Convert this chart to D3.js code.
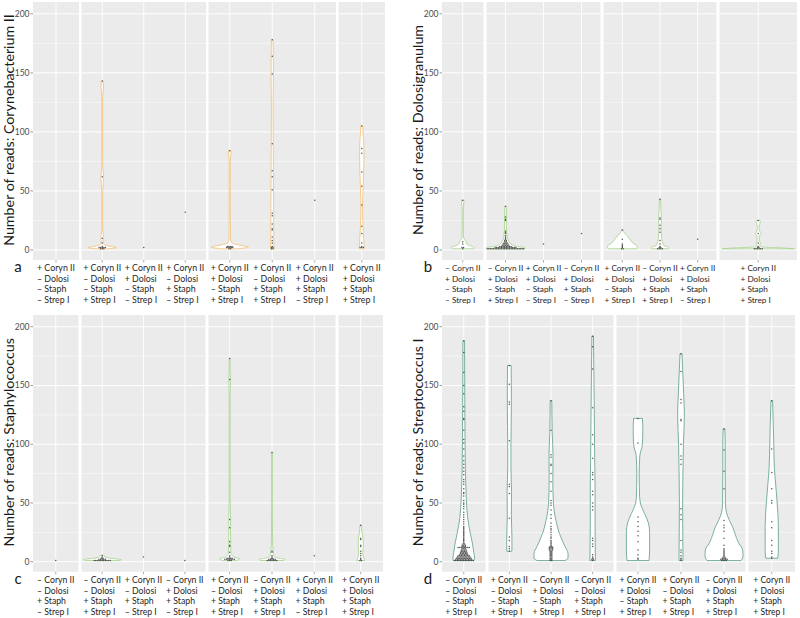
<!DOCTYPE html>
<html><head><meta charset="utf-8">
<script src="https://cdn.jsdelivr.net/npm/d3@7/dist/d3.min.js"></script>
<style>
body{margin:0;background:#fff}
svg{display:block}
text{font-family:Lato,"Noto Sans",sans-serif}
</style>
</head><body>
<svg id="chart" width="800" height="618"></svg>
<script>
// ---------- data ----------
const genes = ["Coryn II", "Dolosi", "Staph", "Strep I"];
const sectionSizes = [1, 3, 3, 1];
const yTicks = [0, 50, 100, 150, 200];
const yMinor = [25, 75, 125, 175];
const titles = [
  "Number of reads: Corynebacterium II",
  "Number of reads: Dolosigranulum",
  "Number of reads: Staphylococcus",
  "Number of reads: Streptococcus I"
];
const panelLetters = ["a", "b", "c", "d"];

// sign pattern per category (Coryn II, Dolosi, Staph, Strep I)
const catsA = ["+–––", "+––+", "++––", "+–+–", "++–+", "+–++", "+++–", "++++"];
const catsB = ["–+––", "–+–+", "++––", "–++–", "++–+", "–+++", "+++–", "++++"];
const catsC = ["––+–", "––++", "+–+–", "–++–", "+–++", "–+++", "+++–", "++++"];
const catsD = ["–––+", "+––+", "–+–+", "––++", "++–+", "+–++", "–+++", "++++"];

// observed read counts per category
const ptsA = [
  [],
  [143, 62, 10, 6, 3, 2, 2, 2, 2, 2, 1, 1, 1],
  [2],
  [32],
  [84, 3, 3, 3, 3, 2, 2, 2, 2, 2, 1, 1],
  [178, 164, 149, 90, 67, 62, 51, 31, 29, 22, 18, 17, 11, 8, 6, 3, 2, 2, 1, 1],
  [42],
  [105, 86, 82, 66, 54, 38, 20, 14, 6, 3, 2, 2, 2]
];
const ptsB = [
  [42, 7, 5, 2, 2, 1],
  [37, 28, 26, 25, 16, 15, 14, 12, 11, 10, 9, 8, 8, 7, 7, 6, 6, 6, 5, 5, 5, 5, 4, 4, 4, 4, 4,
   3, 3, 3, 3, 3, 3, 3, 3, 2, 2, 2, 2, 2, 2, 2, 2, 2, 2, 2, 2, 2, 2,
   1, 1, 1, 1, 1, 1, 1, 1, 1, 1, 1, 1, 1, 1, 1, 1, 1, 1, 1, 1, 1, 1, 1, 1],
  [5],
  [14],
  [17, 9, 5, 4, 3, 2, 1, 1],
  [43, 27, 26, 21, 18, 15, 8, 5, 3, 2, 2, 1, 1, 1, 1],
  [9],
  [25, 14, 6, 3, 2, 2, 1, 1, 1, 1, 1, 1]
];
const ptsC = [
  [1],
  [5, 4, 3, 3, 2, 2, 2, 2, 2, 1, 1, 1, 1, 1, 1, 1, 1, 1, 1, 1],
  [4],
  [1],
  [173, 155, 36, 29, 17, 14, 13, 8, 5, 4, 3, 3, 3, 3, 2, 2, 2, 2, 2, 2, 2, 1, 1, 1],
  [93, 9, 8, 5, 4, 3, 3, 2, 2, 2, 2, 2, 1, 1, 1, 1, 1, 1, 1],
  [5],
  [31, 20, 19, 14, 13, 9, 7, 5, 3, 2, 1, 1]
];
const ptsD = [
  [188, 178, 161, 150, 143, 132, 128, 122, 121, 112, 104, 101, 96, 90, 86, 83, 80, 77, 74, 70, 68,
   66, 62, 59, 58, 56, 52, 50, 49, 47, 45, 42, 40, 38, 36, 34, 32, 30, 29, 28, 27, 26, 25, 24, 23,
   22, 21, 20, 19, 18, 17, 16, 15, 15, 14, 14, 14, 13, 13, 13,
   12, 12, 12, 12, 12, 12, 12, 12, 11, 11, 11, 10, 10, 10, 10, 9, 9, 9, 9, 8, 8, 8, 8, 8,
   7, 7, 7, 7, 7, 6, 6, 6, 6, 6, 6, 5, 5, 5, 5, 5, 5, 5, 5, 4, 4, 4, 4, 4, 4, 4, 4, 4,
   3, 3, 3, 3, 3, 3, 3, 3, 3, 3, 2, 2, 2, 2, 2, 2, 2, 2, 2, 2, 2,
   1, 1, 1, 1, 1, 1, 1, 1, 1, 1, 1, 1, 1],
  [167, 151, 136, 134, 103, 66, 64, 58, 37, 21, 18, 13, 11, 9],
  [137, 112, 91, 89, 83, 82, 75, 68, 60, 52, 50, 48, 44, 40, 37, 33, 30, 28, 27, 25, 23, 21, 20,
   18, 17, 16, 15, 14, 13, 13, 12, 12, 12, 11, 11, 11, 10, 10, 10, 9, 9, 8, 8, 7, 7, 6, 6, 5, 5,
   4, 4, 3, 3, 2, 2, 1, 1],
  [192, 183, 164, 131, 108, 100, 88, 76, 74, 70, 60, 57, 50, 47, 44, 20, 18, 15, 13, 6, 4, 3, 2, 2, 1],
  [122, 101, 38, 34, 30, 26, 22, 17, 10, 6, 3, 2],
  [177, 162, 138, 135, 121, 120, 100, 90, 87, 83, 45, 40, 36, 18, 10, 8, 5, 3, 2, 1],
  [113, 95, 77, 62, 35, 31, 29, 26, 20, 14, 11, 10, 9, 8, 7, 6, 5, 4, 4, 3, 3, 3, 2, 2, 2, 2, 2, 1, 1, 1, 1],
  [137, 96, 76, 62, 52, 50, 34, 29, 18, 14, 9, 7, 4, 3]
];

// violin density profiles [reads, relative density]
const vioA = [
  null,
  [[1, 0.3], [2, 0.7], [3, 0.42], [4.5, 0.1], [7, 0.04], [10, 0.07], [13, 0.05], [20, 0.02], [45, 0.02],
   [57, 0.05], [62, 0.07], [67, 0.04], [80, 0.02], [130, 0.02], [138, 0.06], [143, 0.05]],
  null, null,
  [[1, 0.4], [2.5, 0.93], [4, 0.5], [6, 0.1], [9, 0.035], [40, 0.025], [78, 0.03], [82, 0.07], [84, 0.06]],
  [[1, 0.09], [5, 0.08], [15, 0.07], [30, 0.07], [60, 0.06], [90, 0.05], [120, 0.04], [150, 0.06], [170, 0.05], [178, 0.04]],
  null,
  [[1, 0.12], [5, 0.11], [15, 0.08], [25, 0.05], [35, 0.04], [50, 0.06], [65, 0.09], [80, 0.11], [90, 0.1], [100, 0.06], [105, 0.05]]
];
const vioB = [
  [[1, 0.5], [2, 0.58], [3.5, 0.38], [5, 0.2], [7, 0.17], [9, 0.08], [12, 0.03], [30, 0.025], [38, 0.045], [42, 0.06]],
  [[1, 0.9], [2, 0.95], [3, 0.55], [5, 0.28], [8, 0.14], [12, 0.08], [20, 0.05], [28, 0.05], [37, 0.03]],
  null, null,
  [[1, 0.7], [3, 0.75], [6, 0.52], [9, 0.38], [12, 0.24], [15, 0.08], [17, 0.05]],
  [[1, 0.4], [2, 0.42], [4, 0.18], [7, 0.11], [12, 0.07], [20, 0.06], [27, 0.07], [35, 0.04], [43, 0.03]],
  null,
  [[1, 1.8], [1.8, 1.1], [2.5, 0.18], [4, 0.07], [6, 0.11], [8, 0.05], [12, 0.07], [14, 0.14], [16, 0.07], [20, 0.04], [24, 0.11], [25, 0.09]]
];
const vioC = [
  null,
  [[1, 0.85], [1.8, 0.95], [2.8, 0.48], [4, 0.14], [5, 0.11], [5.7, 0.07]],
  null, null,
  [[1, 0.35], [2.5, 0.5], [4, 0.2], [8, 0.06], [15, 0.05], [30, 0.04], [36, 0.05], [50, 0.025], [140, 0.02], [155, 0.04], [165, 0.02], [173, 0.015]],
  [[1, 0.6], [2, 0.65], [3, 0.33], [5, 0.1], [9, 0.06], [15, 0.03], [50, 0.015], [90, 0.02], [93, 0.02]],
  null,
  [[1, 0.2], [3, 0.15], [8, 0.1], [14, 0.13], [20, 0.11], [25, 0.06], [31, 0.04]]
];
const vioD = [
  [[1, 0.5], [3, 0.54], [8, 0.5], [15, 0.44], [24, 0.33], [38, 0.19], [55, 0.125], [80, 0.08], [100, 0.065], [130, 0.055], [160, 0.045], [188, 0.04]],
  [[9, 0.13], [20, 0.13], [40, 0.1], [60, 0.11], [80, 0.08], [100, 0.08], [130, 0.1], [150, 0.1], [167, 0.09]],
  [[1, 0.7], [3, 0.85], [7, 0.85], [13, 0.7], [24, 0.42], [35, 0.25], [50, 0.12], [70, 0.09], [90, 0.1], [110, 0.06], [137, 0.04]],
  [[1, 0.14], [10, 0.13], [30, 0.12], [60, 0.12], [90, 0.1], [130, 0.08], [160, 0.06], [192, 0.04]],
  [[1, 0.55], [10, 0.58], [25, 0.58], [33, 0.52], [41, 0.33], [48, 0.15], [55, 0.08], [75, 0.06], [90, 0.09], [100, 0.22], [112, 0.24], [122, 0.22]],
  [[1, 0.1], [20, 0.09], [50, 0.08], [80, 0.1], [100, 0.12], [125, 0.17], [140, 0.14], [160, 0.09], [177, 0.05]],
  [[1, 0.85], [5, 0.95], [10, 0.93], [17, 0.7], [24, 0.55], [30, 0.42], [36, 0.25], [42, 0.12], [50, 0.07], [80, 0.06], [100, 0.06], [113, 0.04]],
  [[3, 0.3], [10, 0.33], [30, 0.33], [50, 0.27], [65, 0.2], [80, 0.13], [100, 0.1], [120, 0.07], [137, 0.04]]
];

// ---------- layout ----------
const panels = [
  {cats: catsA, pts: ptsA, vio: vioA, top: 2, bottom: 260, labelY: 271, labelW: 38,
   sections: [[33, 79], [81.5, 206], [208.5, 336], [338.5, 385]], stroke: "#F4BF72", letterX: 18},
  {cats: catsB, pts: ptsB, vio: vioB, top: 2, bottom: 260, labelY: 271, labelW: 35.5,
   sections: [[442, 483.5], [486.5, 600.5], [603.5, 716.5], [719.5, 797]], stroke: "#A3D18B", letterX: 428},
  {cats: catsC, pts: ptsC, vio: vioC, top: 315, bottom: 571.7, labelY: 583, labelW: 37.5,
   sections: [[33, 78.5], [81.5, 205.5], [208.5, 335.5], [338.5, 383]], stroke: "#A3D18B", letterX: 18},
  {cats: catsD, pts: ptsD, vio: vioD, top: 315, bottom: 571.7, labelY: 583, labelW: 37,
   sections: [[442, 485.5], [488.5, 613.5], [616.5, 745.5], [748.5, 795]], stroke: "#5C9F82", letterX: 428}
];

const svg = d3.select("#chart");
const widthScale = d3.scaleLinear().domain([0, 1]).range([0, 20]);
const DOT = 1.6;

function measure(str, size) {
  const t = svg.append("text").attr("font-size", size).text(str);
  const w = t.node().getComputedTextLength();
  t.remove();
  return w;
}
const titleSize = 15 * 232 / measure(titles[0], 15);
const label10 = measure("+ Coryn II", 10);

panels.forEach((p, pi) => {
  const g = svg.append("g");
  const y = d3.scaleLinear().domain([-8.5, 210]).range([p.bottom, p.top]);
  const centers = [];
  let k = 0;
  sectionSizes.forEach((n, si) => {
    const idx = d3.range(k, k + n);
    const xs = d3.scalePoint().domain(idx).range(p.sections[si]).padding(0.5);
    idx.forEach(i => centers[i] = n === 1 ? (p.sections[si][0] + p.sections[si][1]) / 2 : xs(i));
    k += n;
  });

  p.sections.forEach(([x0, x1]) => {
    g.append("rect").attr("x", x0).attr("y", p.top).attr("width", x1 - x0)
      .attr("height", p.bottom - p.top).attr("fill", "#EBEBEB");
    yMinor.forEach(v => g.append("line").attr("x1", x0).attr("x2", x1)
      .attr("y1", y(v)).attr("y2", y(v)).attr("stroke", "#fff").attr("stroke-width", 0.5));
    yTicks.forEach(v => g.append("line").attr("x1", x0).attr("x2", x1)
      .attr("y1", y(v)).attr("y2", y(v)).attr("stroke", "#fff").attr("stroke-width", 1));
  });
  centers.forEach(cx => {
    g.append("line").attr("x1", cx).attr("x2", cx).attr("y1", p.top).attr("y2", p.bottom)
      .attr("stroke", "#fff").attr("stroke-width", 0.9);
    g.append("line").attr("x1", cx).attr("x2", cx).attr("y1", p.bottom).attr("y2", p.bottom + 2.5)
      .attr("stroke", "#777").attr("stroke-width", 0.6);
  });

  const left = p.sections[0][0];
  yTicks.forEach(v => {
    g.append("line").attr("x1", left - 2.5).attr("x2", left).attr("y1", y(v)).attr("y2", y(v))
      .attr("stroke", "#555").attr("stroke-width", 0.6);
    g.append("text").attr("x", left - 3.5).attr("y", y(v)).attr("dy", "0.35em")
      .attr("text-anchor", "end").attr("font-size", 8.5).attr("fill", "#4D4D4D").text(v);
  });
  g.append("text")
    .attr("transform", `translate(${left - 19},${(p.top + p.bottom) / 2 - 1}) rotate(-90)`)
    .attr("text-anchor", "middle").attr("font-size", titleSize).attr("fill", "#1a1a1a")
    .text(titles[pi]);

  g.append("text").attr("x", p.letterX).attr("y", p.labelY + 1).attr("text-anchor", "middle")
    .attr("font-size", 15).attr("fill", "#1a1a1a").text(panelLetters[pi]);

  p.vio.forEach((prof, i) => {
    if (!prof) return;
    const cx = centers[i];
    const area = d3.area().curve(d3.curveMonotoneY)
      .y(d => y(d[0]))
      .x0(d => cx - widthScale(d[1]))
      .x1(d => cx + widthScale(d[1]));
    g.append("path").attr("d", area(prof)).attr("fill", "#fff")
      .attr("stroke", p.stroke).attr("stroke-width", 0.8);
  });

  p.pts.forEach((vals, i) => {
    const cx = centers[i];
    const groups = d3.rollups(vals, v => v.length, v => v);
    groups.forEach(([val, n]) => {
      for (let j = 0; j < n; j++) {
        g.append("circle").attr("cx", cx + (j - (n - 1) / 2) * DOT).attr("cy", y(val))
          .attr("r", 0.75).attr("fill", "#3a3a3a").attr("fill-opacity", 0.85);
      }
    });
  });

  const labelSize = 10 * p.labelW / label10;
  p.cats.forEach((c, i) => {
    const signs = [...c];
    const t = g.append("text").attr("font-size", labelSize).attr("fill", "#262626");
    signs.forEach((s, li) => {
      t.append("tspan").attr("y", p.labelY + li * 10.6).text(s + " " + genes[li]);
    });
    let w = 0;
    t.selectAll("tspan").each(function () { w = Math.max(w, this.getComputedTextLength()); });
    t.selectAll("tspan").attr("x", centers[i] - w / 2);
  });
});
</script>
</body></html>
